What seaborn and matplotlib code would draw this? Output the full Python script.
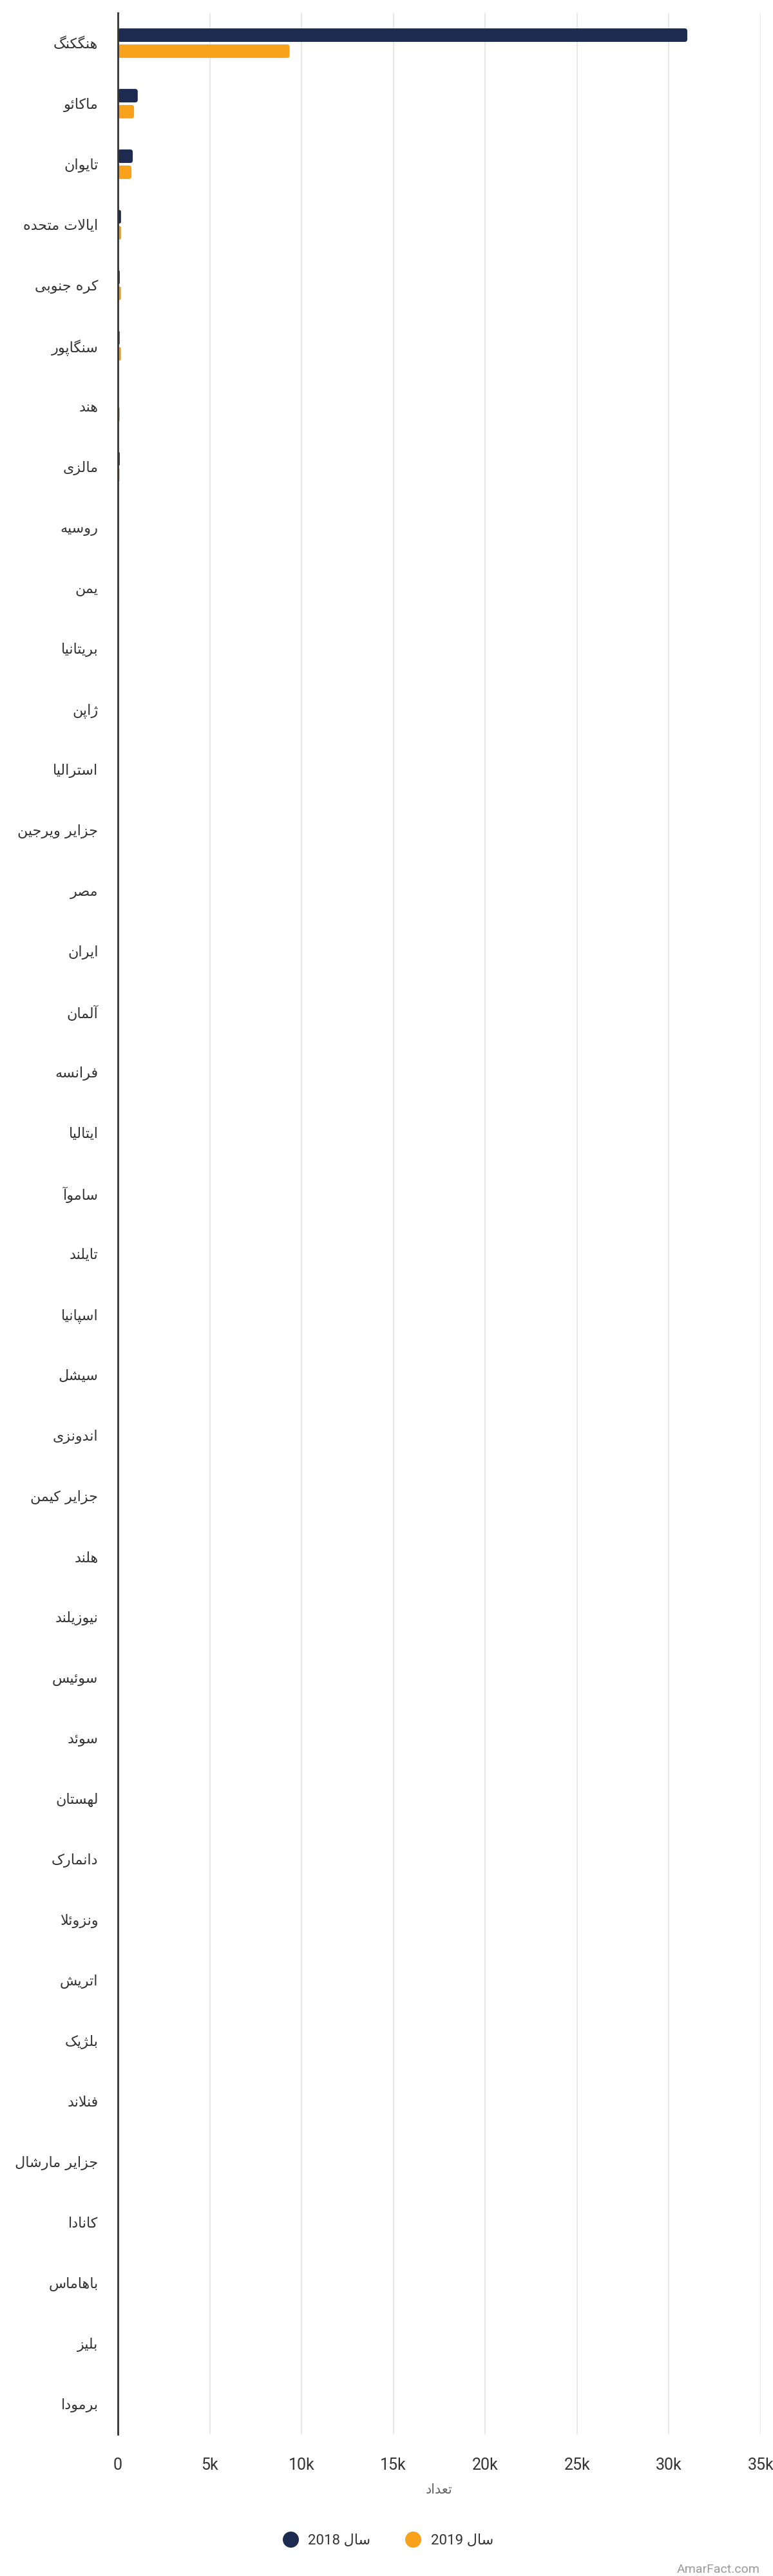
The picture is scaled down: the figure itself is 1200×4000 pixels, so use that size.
import numpy as np
import pandas as pd
import seaborn as sns
import matplotlib.pyplot as plt
from matplotlib.patches import FancyBboxPatch
from matplotlib.lines import Line2D

# data
countries = [
    "هنگ\u200cکنگ", "ماکائو", "تایوان", "ایالات متحده", "کره جنوبی",
    "سنگاپور", "هند", "مالزی", "روسیه", "یمن",
    "بریتانیا", "ژاپن", "استرالیا", "جزایر ویرجین", "مصر",
    "ایران", "آلمان", "فرانسه", "ایتالیا", "ساموآ",
    "تایلند", "اسپانیا", "سیشل", "اندونزی", "جزایر کیمن",
    "هلند", "نیوزیلند", "سوئیس", "سوئد", "لهستان",
    "دانمارک", "ونزوئلا", "اتریش", "بلژیک", "فنلاند",
    "جزایر مارشال", "کانادا", "باهاماس", "بلیز", "برمودا",
]
values_2018 = [31000, 1080, 810, 170, 100, 95, 25, 100, 40, 35,
               35, 30, 30, 30, 25, 25, 20, 20, 20, 20,
               15, 15, 15, 15, 15, 10, 10, 10, 10, 10,
               10, 8, 8, 8, 5, 5, 5, 5, 5, 5]
values_2019 = [9350, 880, 740, 180, 170, 170, 100, 90, 40, 40,
               35, 35, 30, 25, 30, 25, 25, 20, 20, 15,
               20, 15, 15, 15, 10, 15, 10, 10, 10, 10,
               10, 10, 8, 8, 8, 5, 5, 5, 5, 5]
years = ["سال 2018", "سال 2019"]
x_ticks = [0, 5000, 10000, 15000, 20000, 25000, 30000, 35000]
x_tick_labels = ["0", "5k", "10k", "15k", "20k", "25k", "30k", "35k"]
axis_title = "تعداد"
watermark = "AmarFact.com"

DARK = "#1c2b4f"
ORANGE = "#f8a11b"

# ---- minimal Arabic/Persian shaping (matplotlib has no text shaping) ----
_F = {
    # right joining: (isolated, final)
    "\u0622": "\uFE81\uFE82", "\u0623": "\uFE83\uFE84", "\u0624": "\uFE85\uFE86",
    "\u0625": "\uFE87\uFE88", "\u0627": "\uFE8D\uFE8E", "\u0629": "\uFE93\uFE94",
    "\u062F": "\uFEA9\uFEAA", "\u0630": "\uFEAB\uFEAC", "\u0631": "\uFEAD\uFEAE",
    "\u0632": "\uFEAF\uFEB0", "\u0648": "\uFEED\uFEEE", "\u0698": "\uFB8A\uFB8B",
    # dual joining: (isolated, final, initial, medial)
    "\u0626": "\uFE89\uFE8A\uFE8B\uFE8C", "\u0628": "\uFE8F\uFE90\uFE91\uFE92",
    "\u062A": "\uFE95\uFE96\uFE97\uFE98", "\u062B": "\uFE99\uFE9A\uFE9B\uFE9C",
    "\u062C": "\uFE9D\uFE9E\uFE9F\uFEA0", "\u062D": "\uFEA1\uFEA2\uFEA3\uFEA4",
    "\u062E": "\uFEA5\uFEA6\uFEA7\uFEA8", "\u0633": "\uFEB1\uFEB2\uFEB3\uFEB4",
    "\u0634": "\uFEB5\uFEB6\uFEB7\uFEB8", "\u0635": "\uFEB9\uFEBA\uFEBB\uFEBC",
    "\u0636": "\uFEBD\uFEBE\uFEBF\uFEC0", "\u0637": "\uFEC1\uFEC2\uFEC3\uFEC4",
    "\u0638": "\uFEC5\uFEC6\uFEC7\uFEC8", "\u0639": "\uFEC9\uFECA\uFECB\uFECC",
    "\u063A": "\uFECD\uFECE\uFECF\uFED0", "\u0641": "\uFED1\uFED2\uFED3\uFED4",
    "\u0642": "\uFED5\uFED6\uFED7\uFED8", "\u0643": "\uFED9\uFEDA\uFEDB\uFEDC",
    "\u0644": "\uFEDD\uFEDE\uFEDF\uFEE0", "\u0645": "\uFEE1\uFEE2\uFEE3\uFEE4",
    "\u0646": "\uFEE5\uFEE6\uFEE7\uFEE8", "\u0647": "\uFEE9\uFEEA\uFEEB\uFEEC",
    "\u064A": "\uFEF1\uFEF2\uFEF3\uFEF4", "\u067E": "\uFB56\uFB57\uFB58\uFB59",
    "\u0686": "\uFB7A\uFB7B\uFB7C\uFB7D", "\u06A9": "\uFB8E\uFB8F\uFB90\uFB91",
    "\u06AF": "\uFB92\uFB93\uFB94\uFB95", "\u06CC": "\uFBFC\uFBFD\uFBFE\uFBFF",
}
_LAM_ALEF = {"\u0627": "\uFEFB\uFEFC", "\u0622": "\uFEF5\uFEF6",
             "\u0623": "\uFEF7\uFEF8", "\u0625": "\uFEF9\uFEFA"}


def shape(text):
    s = text.replace("\u200c", "")
    out = []
    i = 0
    prev = None
    while i < len(s):
        ch = s[i]
        if ch not in _F:
            out.append(ch)
            prev = None
            i += 1
            continue
        joins_prev = prev is not None and len(_F[prev]) == 4
        nxt = s[i + 1] if i + 1 < len(s) else None
        if ch == "\u0644" and nxt in _LAM_ALEF:
            out.append(_LAM_ALEF[nxt][1 if joins_prev else 0])
            prev = nxt
            i += 2
            continue
        forms = _F[ch]
        joins_next = len(forms) == 4 and nxt in _F
        if joins_prev and joins_next:
            out.append(forms[3])
        elif joins_next:
            out.append(forms[2])
        elif joins_prev:
            out.append(forms[1])
        else:
            out.append(forms[0])
        prev = ch
        i += 1
    vis = "".join(out)[::-1]
    # keep digit runs left-to-right
    res, run = [], []
    for c in vis:
        if c.isdigit():
            run.append(c)
        else:
            res.extend(run[::-1])
            run = []
            res.append(c)
    res.extend(run[::-1])
    return "".join(res)


df = pd.DataFrame({
    "country": countries * 2,
    "value": values_2018 + values_2019,
    "year": [years[0]] * len(countries) + [years[1]] * len(countries),
})

sns.set_theme(style="white")
plt.rcParams["font.family"] = ["Roboto", "DejaVu Sans"]

fig = plt.figure(figsize=(12, 40), dpi=100)
ax = fig.add_axes([183 / 1200, 1 - 3780 / 4000, 998 / 1200, 3760 / 4000])

sns.barplot(data=df, x="value", y="country", hue="year", order=countries,
            hue_order=years, palette=[DARK, ORANGE], saturation=1,
            orient="h", width=0.53, gap=0.16, errorbar=None, legend=False,
            ax=ax)

ax.set_xlim(0, 35000)
ax.set_ylim(len(countries) - 0.5, -0.5)
ax.set_xticks(x_ticks)
ax.set_xticklabels(x_tick_labels, fontsize=18, color="#333333", family="Roboto")
ax.set_yticks(range(len(countries)))
ax.set_yticklabels([shape(c) for c in countries], fontsize=16,
                   color="#333333", family="DejaVu Sans")
ax.tick_params(axis="y", length=0, pad=22)
ax.tick_params(axis="x", length=0, pad=26)
ax.set_xlabel("")
ax.set_ylabel("")
ax.grid(axis="x", color="#e6e6e6", linewidth=1.3)
ax.set_axisbelow(True)
for side in ["top", "right", "bottom"]:
    ax.spines[side].set_visible(False)
ax.spines["left"].set_color("#333333")
ax.spines["left"].set_linewidth(2)
ax.spines["left"].set_zorder(5)

# rounded bar ends
px_x = ax.transData.transform((1, 0))[0] - ax.transData.transform((0, 0))[0]
px_y = abs(ax.transData.transform((0, 1))[1] - ax.transData.transform((0, 0))[1])
for bar in list(ax.patches):
    x0, y0 = bar.get_x(), bar.get_y()
    w, h = bar.get_width(), bar.get_height()
    color = bar.get_facecolor()
    bar.remove()
    if w <= 0:
        continue
    r_px = min(4.0, w * px_x / 2, h * px_y / 2)
    rx = r_px / px_x
    ry = r_px / px_y
    ax.add_patch(FancyBboxPatch((x0, y0), w, h,
                                boxstyle=f"round,pad=0,rounding_size={rx}",
                                mutation_aspect=ry / rx, facecolor=color,
                                edgecolor="none", linewidth=0, zorder=2))

fig.text((183 + 1181) / 2 / 1200, 1 - 3866 / 4000, shape(axis_title),
         ha="center", va="center", fontsize=15, color="#666666",
         family="DejaVu Sans")

handles = [Line2D([], [], marker="o", linestyle="", markersize=17,
                  markerfacecolor=c, markeredgecolor=c) for c in (DARK, ORANGE)]
fig.legend(handles, [shape(y) for y in years], loc="center",
           bbox_to_anchor=(0.5, 1 - 3945 / 4000), ncol=2, frameon=False,
           fontsize=16, handlelength=1.5, handletextpad=0.5,
           columnspacing=2.2, labelcolor="#333333")

fig.text(1180 / 1200, 1 - 3990 / 4000, watermark, ha="right", va="center",
         fontsize=14, color="#9a9a9a", family="Roboto")

fig.savefig("out.png", dpi=100, facecolor="white")
